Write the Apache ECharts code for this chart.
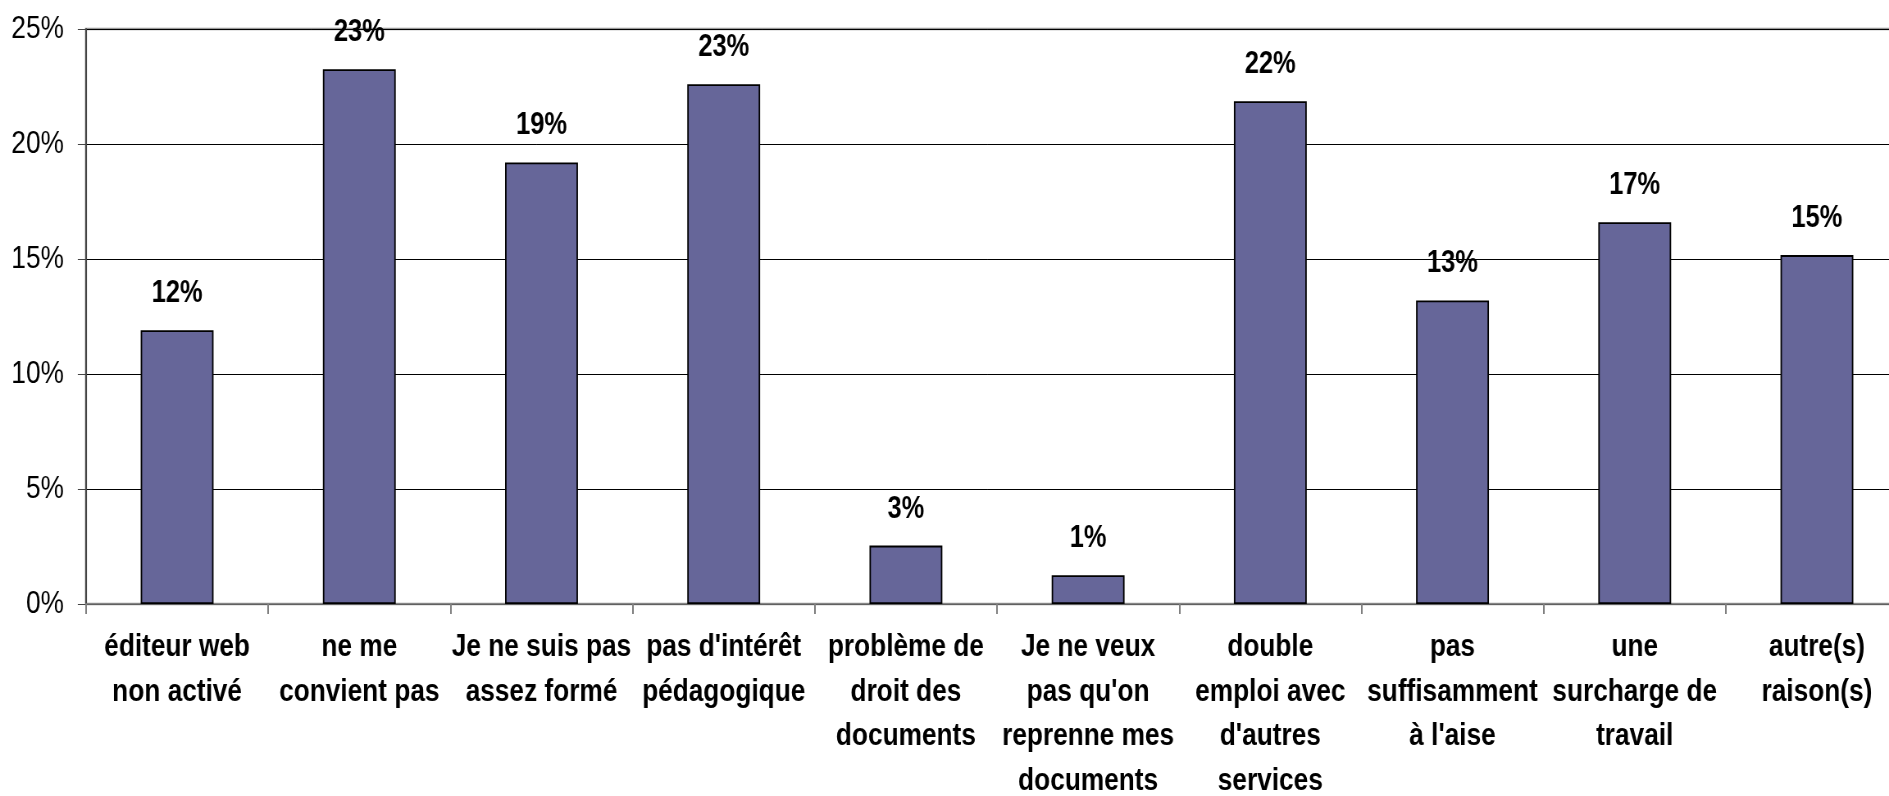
<!DOCTYPE html>
<html>
<head>
<meta charset="utf-8">
<script src="https://cdn.jsdelivr.net/npm/echarts@6/dist/echarts.min.js"></script>
<style>
  html, body { margin: 0; padding: 0; background: #fff; overflow: hidden; width: 1889px; height: 796px; }
  /* the original uses a narrow font; no narrow face is installed, so the chart is
     drawn wider and squeezed horizontally */
  #chart { width: 2304px; height: 796px; transform: scaleX(0.81988); transform-origin: 0 0; }
</style>
</head>
<body>
<div id="chart"></div>
<script>
// categories (line breaks as in the original labels)
const categories = [
  "éditeur web\nnon activé",
  "ne me\nconvient pas",
  "Je ne suis pas\nassez formé",
  "pas d'intérêt\npédagogique",
  "problème de\ndroit des\ndocuments",
  "Je ne veux\npas qu'on\nreprenne mes\ndocuments",
  "double\nemploi avec\nd'autres\nservices",
  "pas\nsuffisamment\nà l'aise",
  "une\nsurcharge de\ntravail",
  "autre(s)\nraison(s)"
];

// percentages
const values = [11.9, 23.25, 19.2, 22.6, 2.54, 1.25, 21.86, 13.2, 16.6, 15.17];

const yTicks = [0, 5, 10, 15, 20, 25];

const font = "'Liberation Sans', Arial, sans-serif";
const sx = 0.81988; // horizontal squeeze applied by css

const chart = echarts.init(document.getElementById('chart'));

const option = {
    animation: false,
    backgroundColor: '#fff',
    grid: {
        left: 86 / sx,
        top: 29,
        bottom: 192,
        right: 2304 - 1908 / sx,
        outerBoundsMode: 'none',
        containLabel: false,
        show: true,
        borderColor: '#999',
        borderWidth: 2.5,
        backgroundColor: 'transparent'
    },
    xAxis: {
        type: 'category',
        data: categories,
        axisLine: { lineStyle: { color: '#808080', width: 1.5 } },
        axisTick: { show: true, length: 10, lineStyle: { color: '#808080', width: 2 } },
        axisLabel: {
            interval: 0,
            margin: 21,
            color: '#000',
            fontFamily: font,
            fontWeight: 'bold',
            fontSize: 32,
            lineHeight: 44.5
        }
    },
    yAxis: {
        type: 'value',
        min: yTicks[0],
        max: yTicks[yTicks.length - 1],
        interval: 5,
        axisLine: { show: true, lineStyle: { color: '#444', width: 2 } },
        axisTick: { show: true, length: 10, lineStyle: { color: '#444', width: 1 } },
        axisLabel: {
            margin: 27,
            color: '#000',
            fontFamily: font,
            fontSize: 32,
            formatter: v => v + '%'
        },
        splitLine: { lineStyle: { color: '#000', width: 1 } }
    },
    series: [
        {
            type: 'bar',
            data: values,
            barWidth: '40%',
            itemStyle: {
                color: '#666699',
                borderColor: '#000',
                borderWidth: 1.8
            },
            label: {
                show: true,
                position: 'top',
                distance: 21,
                color: '#000',
                fontFamily: font,
                fontWeight: 'bold',
                fontSize: 31,
                formatter: p => Math.round(p.value) + '%'
            }
        }
    ]
};

chart.setOption(option);
</script>
</body>
</html>
